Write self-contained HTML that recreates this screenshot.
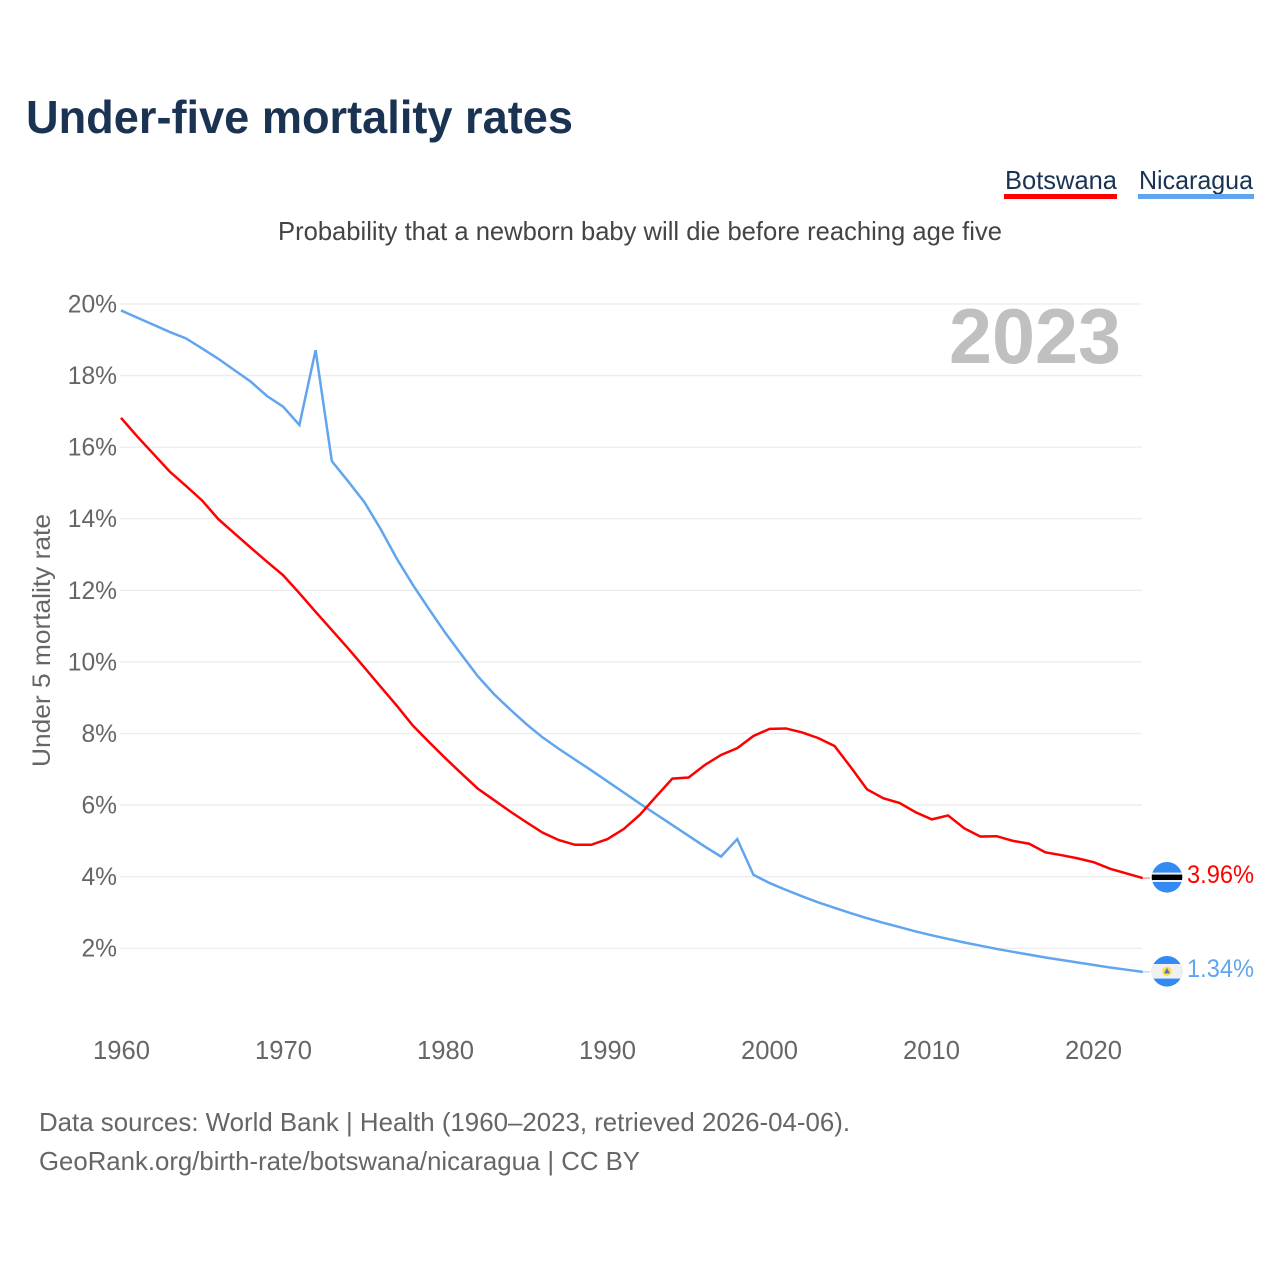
<!DOCTYPE html>
<html lang="en">
<head>
<meta charset="utf-8">
<title>Under-five mortality rates</title>
<style>
html,body{margin:0;padding:0;background:#fff;width:1280px;height:1280px;overflow:hidden}
svg{display:block;font-family:"Liberation Sans",sans-serif}
</style>
</head>
<body>
<svg id="chart" xmlns="http://www.w3.org/2000/svg" width="1280" height="1280" viewBox="0 0 1280 1280">
  <rect x="0" y="0" width="1280" height="1280" fill="#ffffff"/>
  <text x="26" y="133" font-size="46" font-weight="700" fill="#1a3353" textLength="547" lengthAdjust="spacingAndGlyphs">Under-five mortality rates</text>
  <text x="278" y="240" font-size="26" fill="#444444" textLength="724" lengthAdjust="spacingAndGlyphs">Probability that a newborn baby will die before reaching age five</text>

  <g>
    <text x="1005" y="189" font-size="26" fill="#1a3353" textLength="112" lengthAdjust="spacingAndGlyphs">Botswana</text>
    <rect x="1004" y="194" width="113" height="5" fill="#ff0000"/>
  </g>
  <g>
    <text x="1139" y="189" font-size="26" fill="#1a3353" textLength="114" lengthAdjust="spacingAndGlyphs">Nicaragua</text>
    <rect x="1138" y="194" width="116" height="5" fill="#60a5ee"/>
  </g>

  <g id="grid"></g>
  <g id="yticks"></g>
  <g id="xticks"></g>

  <text x="949" y="363" font-size="78" font-weight="700" fill="#c0c0c0" textLength="172" lengthAdjust="spacingAndGlyphs">2023</text>
  <text transform="translate(50,767) rotate(-90)" font-size="25" fill="#666666" textLength="253" lengthAdjust="spacingAndGlyphs">Under 5 mortality rate</text>

  <g id="series"></g>

  <defs>
    <clipPath id="clip-bw"><circle cx="1167" cy="877.3" r="15.3"/></clipPath>
    <clipPath id="clip-ni"><circle cx="1167" cy="971.3" r="15.3"/></clipPath>
  </defs>
  <g id="flag-bw" clip-path="url(#clip-bw)">
    <rect x="1150" y="861" width="34" height="33" fill="#338af3"/>
    <rect x="1150" y="872.6" width="34" height="9.4" fill="#f0f0f0"/>
    <rect x="1150" y="874.6" width="34" height="5.4" fill="#000000"/>
  </g>
  <g id="flag-ni" clip-path="url(#clip-ni)">
    <rect x="1150" y="955" width="34" height="33" fill="#338af3"/>
    <rect x="1150" y="964" width="34" height="14.6" fill="#f0f0f0"/>
    <circle cx="1167" cy="971.3" r="4.6" fill="#ffda44"/>
    <polygon points="1167,968 1170,973.4 1164,973.4" fill="#4a7bb5"/>
  </g>

  <text id="value-bw" x="1187" y="883" font-size="25" fill="#ff0000" textLength="67" lengthAdjust="spacingAndGlyphs"></text>
  <text id="value-ni" x="1187" y="977" font-size="25" fill="#60a5ee" textLength="67" lengthAdjust="spacingAndGlyphs"></text>

  <text x="39" y="1131" font-size="26" fill="#666666" textLength="811" lengthAdjust="spacingAndGlyphs">Data sources: World Bank | Health (1960–2023, retrieved 2026-04-06).</text>
  <text x="39" y="1170" font-size="26" fill="#666666" textLength="601" lengthAdjust="spacingAndGlyphs">GeoRank.org/birth-rate/botswana/nicaragua | CC BY</text>
</svg>
<script>
const startYear = 1960;
const botswana = [16.82,16.30,15.81,15.32,14.92,14.51,13.99,13.59,13.19,12.80,12.42,11.92,11.40,10.89,10.38,9.85,9.31,8.78,8.22,7.76,7.31,6.88,6.46,6.14,5.82,5.52,5.23,5.02,4.89,4.89,5.05,5.33,5.73,6.24,6.74,6.77,7.12,7.40,7.59,7.93,8.13,8.14,8.03,7.87,7.65,7.06,6.44,6.19,6.06,5.80,5.60,5.71,5.35,5.12,5.13,5.00,4.92,4.68,4.60,4.51,4.40,4.22,4.09,3.96];
const nicaragua = [19.82,19.62,19.42,19.22,19.04,18.76,18.47,18.15,17.83,17.43,17.13,16.62,18.71,15.61,15.05,14.47,13.72,12.89,12.15,11.47,10.81,10.20,9.60,9.10,8.67,8.26,7.89,7.57,7.27,6.97,6.66,6.35,6.04,5.74,5.44,5.14,4.84,4.56,5.05,4.05,3.82,3.63,3.45,3.28,3.13,2.98,2.84,2.71,2.59,2.47,2.36,2.26,2.16,2.07,1.98,1.90,1.82,1.74,1.67,1.60,1.53,1.46,1.40,1.34];
const yTickValues = [20,18,16,14,12,10,8,6,4,2];
const xTickValues = [1960,1970,1980,1990,2000,2010,2020];

const NS = 'http://www.w3.org/2000/svg';
function xScale(year){ return 121 + (year - 1960) * 16.217; }
function xLabelScale(year){ return 121.5 + (year - 1960) * 16.2; }
function yScale(v){ return 304 + (20 - v) * 35.79; }
function make(tag, parent, attrs){
  const el = document.createElementNS(NS, tag);
  for (const k in attrs) el.setAttribute(k, attrs[k]);
  parent.appendChild(el);
  return el;
}

const grid = document.getElementById('grid');
const yticks = document.getElementById('yticks');
yTickValues.forEach(function(v){
  const line = make('line', grid, {x1:120, x2:1142, y1:yScale(v), y2:yScale(v), stroke:'#ececec', 'stroke-width':1.3});
  
  
  const t = make('text', yticks, {x:117, y:yScale(v)+8.5, 'font-size':24.6, fill:'#666666', 'text-anchor':'end'});
  
  
  t.textContent = v + '%';
});

const xticks = document.getElementById('xticks');
xTickValues.forEach(function(y){
  const t = make('text', xticks, {x:xLabelScale(y), y:1059, 'font-size':25.6, fill:'#666666', 'text-anchor':'middle'});
  
  
  t.textContent = y;
});

const seriesGroup = document.getElementById('series');
function pathFor(values){
  return values.map(function(v,i){
    return (i ? 'L' : 'M') + xScale(startYear + i).toFixed(2) + ' ' + yScale(v).toFixed(2);
  }).join(' ');
}
function lastPoint(values){
  return {x:xScale(startYear + values.length - 1), y:yScale(values[values.length - 1])};
}

const nicaraguaLine = make('path', seriesGroup, {d:pathFor(nicaragua), fill:'none', stroke:'#60a5ee', 'stroke-width':2.5, 'stroke-linejoin':'miter'});


const botswanaLine = make('path', seriesGroup, {d:pathFor(botswana), fill:'none', stroke:'#ff0000', 'stroke-width':2.5, 'stroke-linejoin':'miter'});



const endB = lastPoint(botswana);
const endN = lastPoint(nicaragua);
const connB = make('line', seriesGroup, {x1:endB.x, y1:endB.y, x2:1150, y2:endB.y, stroke:'#ff0000', 'stroke-width':1, opacity:0.6});


const connN = make('line', seriesGroup, {x1:endN.x, y1:endN.y, x2:1150, y2:endN.y, stroke:'#60a5ee', 'stroke-width':1, opacity:0.6});



document.getElementById('value-bw').textContent = botswana[botswana.length - 1].toFixed(2) + '%';
document.getElementById('value-ni').textContent = nicaragua[nicaragua.length - 1].toFixed(2) + '%';
</script>
</body>
</html>
